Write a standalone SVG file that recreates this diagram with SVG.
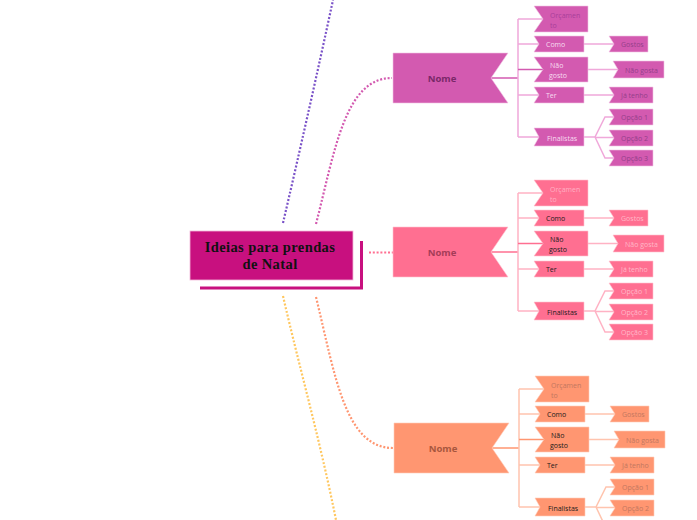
<svg xmlns="http://www.w3.org/2000/svg" width="697" height="520" viewBox="0 0 697 520">
<style>
.t{font-family:"Open Sans","Noto Sans","DejaVu Sans",sans-serif;font-size:7px}
.nm{font-family:"Open Sans","Noto Sans","DejaVu Sans",sans-serif;font-size:9.5px;font-weight:bold}
.mt{font-family:"Liberation Serif","DejaVu Serif",serif;font-size:14.5px;font-weight:bold;fill:#111;letter-spacing:0.4px}
.c1 .n{fill:#D35AB0;stroke:#F2C2E4;stroke-width:0.6}
.c2 .n{fill:#FF6F91;stroke:#FFC4D2;stroke-width:0.6}
.c3 .n{fill:#FF9671;stroke:#FFCDBA;stroke-width:0.6}
.c1 .nmt{fill:#7A2868}.c2 .nmt{fill:#A53C58}.c3 .nmt{fill:#A8563E}
.c1 .ct{fill:#F7DDF0}.c2 .ct,.c3 .ct{fill:#1a1a1a}
.c1 .ot{fill:#A8409A}.c2 .ot{fill:#FFB0C4}.c3 .ot{fill:#C27660}
.c1 .gt{fill:#94408A}.c2 .gt{fill:#FFB8C8}.c3 .gt{fill:#C27660}
.l{fill:none;stroke-width:1.5}
.c1 .ll{stroke:#F0A8DA}.c1 .ld{stroke:#D35AB0}
.c2 .ll{stroke:#FFB2C4}.c2 .ld{stroke:#FF6F91}
.c3 .ll{stroke:#FFC4AE}.c3 .ld{stroke:#FF9671}
.d{fill:none;stroke-width:2.2;stroke-dasharray:2 1.8}
</style>
<g id="connectors">
<path class="d" stroke="#7A52C8" d="M283,223 C300,150 318,70 333,0"/>
<path class="d" stroke="#D35AB0" d="M316,224 C335,150 345,78 392,78"/>
<path class="d" stroke="#FF6F91" d="M369,252.5 H393"/>
<path class="d" stroke="#FF9671" d="M316,297 C335,375 345,448 393,448"/>
<path class="d" stroke="#FFC75F" d="M283,296 C300,370 320,440 336,520"/>
<g class="c1">
<path class="l ld" d="M491,78 H518"/>
<path class="l ll" d="M518,19 V137 M518,19 H543 M518,44 H539 M518,95 H539 M518,137 H539 M584,44 H614 M588,69.5 H618 M584,95 H614 M584,137 H595 L605,117 H614 M595,137 L605,158 H614 M595,137.5 H614"/>
<path class="l ld" d="M518,69.5 H543"/>
</g>
<g class="c2" transform="translate(0,174)">
<path class="l ld" d="M491,78 H518"/>
<path class="l ll" d="M518,19 V137 M518,19 H543 M518,44 H539 M518,95 H539 M518,137 H539 M584,44 H614 M588,69.5 H618 M584,95 H614 M584,137 H595 L605,117 H614 M595,137 L605,158 H614 M595,137.5 H614"/>
<path class="l ld" d="M518,69.5 H543"/>
</g>
<g class="c3" transform="translate(1,370)">
<path class="l ld" d="M491,78 H518"/>
<path class="l ll" d="M518,19 V137 M518,19 H543 M518,44 H539 M518,95 H539 M518,137 H539 M584,44 H614 M588,69.5 H618 M584,95 H614 M584,137 H595 L605,117 H614 M595,137 L605,158 H614 M595,137.5 H614"/>
<path class="l ld" d="M518,69.5 H543"/>
</g>
</g>
<g id="main">
<path d="M200,288 H361.5 V241" fill="none" stroke="#C8107F" stroke-width="3"/>
<rect x="190" y="231" width="163" height="49" fill="#C8107F" stroke="#F3B8DA" stroke-width="0.8"/>
<text class="mt" x="270" y="252" text-anchor="middle">Ideias para prendas</text>
<text class="mt" x="270" y="268.5" text-anchor="middle">de Natal</text>
</g>
<g class="c1">
<g id="nome1"><polygon class="n" points="393,53 508,53 491,78 508,103 393,103"/><text class="nm nmt" x="442" y="82" text-anchor="middle">Nome</text></g>
<g id="orc1"><polygon class="n" points="534,6 588,6 588,32 534,32 543,19"/><text class="t ot" x="550" y="17.5">Orçamen</text><text class="t ot" x="550" y="27.5">to</text></g>
<g id="como1"><polygon class="n" points="534,36 584,36 584,52 534,52 539,44"/><text class="t ct" x="546" y="47">Como</text></g>
<g id="naog1"><polygon class="n" points="534,57 588,57 588,82 534,82 543,69.5"/><text class="t ct" x="550" y="67.5">Não</text><text class="t ct" x="549" y="77.5">gosto</text></g>
<g id="ter1"><polygon class="n" points="534,87 584,87 584,103 534,103 539,95"/><text class="t ct" x="546" y="97.5">Ter</text></g>
<g id="fin1"><polygon class="n" points="534,128 584,128 584,146 534,146 539,137"/><text class="t ct" x="547" y="140.5">Finalistas</text></g>
<g id="gos1"><polygon class="n" points="609,36 648,36 648,52 609,52 614,44"/><text class="t gt" x="621" y="47">Gostos</text></g>
<g id="ngs1"><polygon class="n" points="613,61 664,61 664,78 613,78 618,69.5"/><text class="t gt" x="625" y="72.5">Não gosta</text></g>
<g id="jat1"><polygon class="n" points="609,87 653,87 653,103 609,103 614,95"/><text class="t gt" x="621" y="97.5">Já tenho</text></g>
<g id="op11"><polygon class="n" points="609,109 653,109 653,125 609,125 614,117"/><text class="t gt" x="621" y="120">Opção 1</text></g>
<g id="op21"><polygon class="n" points="609,130 653,130 653,146 609,146 614,138"/><text class="t gt" x="621" y="141">Opção 2</text></g>
<g id="op31"><polygon class="n" points="609,150 653,150 653,166 609,166 614,158"/><text class="t gt" x="621" y="161">Opção 3</text></g>
</g>
<g class="c2" transform="translate(0,174)">
<g id="nome2"><polygon class="n" points="393,53 508,53 491,78 508,103 393,103"/><text class="nm nmt" x="442" y="82" text-anchor="middle">Nome</text></g>
<g id="orc2"><polygon class="n" points="534,6 588,6 588,32 534,32 543,19"/><text class="t ot" x="550" y="17.5">Orçamen</text><text class="t ot" x="550" y="27.5">to</text></g>
<g id="como2"><polygon class="n" points="534,36 584,36 584,52 534,52 539,44"/><text class="t ct" x="546" y="47">Como</text></g>
<g id="naog2"><polygon class="n" points="534,57 588,57 588,82 534,82 543,69.5"/><text class="t ct" x="550" y="67.5">Não</text><text class="t ct" x="549" y="77.5">gosto</text></g>
<g id="ter2"><polygon class="n" points="534,87 584,87 584,103 534,103 539,95"/><text class="t ct" x="546" y="97.5">Ter</text></g>
<g id="fin2"><polygon class="n" points="534,128 584,128 584,146 534,146 539,137"/><text class="t ct" x="547" y="140.5">Finalistas</text></g>
<g id="gos2"><polygon class="n" points="609,36 648,36 648,52 609,52 614,44"/><text class="t gt" x="621" y="47">Gostos</text></g>
<g id="ngs2"><polygon class="n" points="613,61 664,61 664,78 613,78 618,69.5"/><text class="t gt" x="625" y="72.5">Não gosta</text></g>
<g id="jat2"><polygon class="n" points="609,87 653,87 653,103 609,103 614,95"/><text class="t gt" x="621" y="97.5">Já tenho</text></g>
<g id="op12"><polygon class="n" points="609,109 653,109 653,125 609,125 614,117"/><text class="t gt" x="621" y="120">Opção 1</text></g>
<g id="op22"><polygon class="n" points="609,130 653,130 653,146 609,146 614,138"/><text class="t gt" x="621" y="141">Opção 2</text></g>
<g id="op32"><polygon class="n" points="609,150 653,150 653,166 609,166 614,158"/><text class="t gt" x="621" y="161">Opção 3</text></g>
</g>
<g class="c3" transform="translate(1,370)">
<g id="nome3"><polygon class="n" points="393,53 508,53 491,78 508,103 393,103"/><text class="nm nmt" x="442" y="82" text-anchor="middle">Nome</text></g>
<g id="orc3"><polygon class="n" points="534,6 588,6 588,32 534,32 543,19"/><text class="t ot" x="550" y="17.5">Orçamen</text><text class="t ot" x="550" y="27.5">to</text></g>
<g id="como3"><polygon class="n" points="534,36 584,36 584,52 534,52 539,44"/><text class="t ct" x="546" y="47">Como</text></g>
<g id="naog3"><polygon class="n" points="534,57 588,57 588,82 534,82 543,69.5"/><text class="t ct" x="550" y="67.5">Não</text><text class="t ct" x="549" y="77.5">gosto</text></g>
<g id="ter3"><polygon class="n" points="534,87 584,87 584,103 534,103 539,95"/><text class="t ct" x="546" y="97.5">Ter</text></g>
<g id="fin3"><polygon class="n" points="534,128 584,128 584,146 534,146 539,137"/><text class="t ct" x="547" y="140.5">Finalistas</text></g>
<g id="gos3"><polygon class="n" points="609,36 648,36 648,52 609,52 614,44"/><text class="t gt" x="621" y="47">Gostos</text></g>
<g id="ngs3"><polygon class="n" points="613,61 664,61 664,78 613,78 618,69.5"/><text class="t gt" x="625" y="72.5">Não gosta</text></g>
<g id="jat3"><polygon class="n" points="609,87 653,87 653,103 609,103 614,95"/><text class="t gt" x="621" y="97.5">Já tenho</text></g>
<g id="op13"><polygon class="n" points="609,109 653,109 653,125 609,125 614,117"/><text class="t gt" x="621" y="120">Opção 1</text></g>
<g id="op23"><polygon class="n" points="609,130 653,130 653,146 609,146 614,138"/><text class="t gt" x="621" y="141">Opção 2</text></g>
</g>
</svg>
